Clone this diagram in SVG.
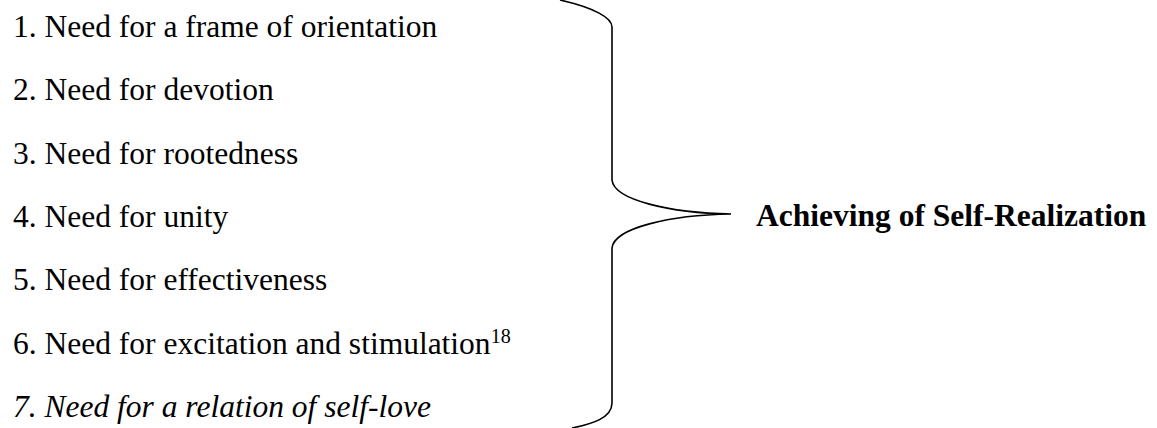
<svg xmlns="http://www.w3.org/2000/svg" width="1157" height="428" viewBox="0 0 1157 428">
<style>
  .t { font-family: "Liberation Serif", "Times New Roman", serif; font-size: 31.5px; fill: #000; }
  .i { font-style: italic; }
  .b { font-weight: bold; }
  .brace { fill: none; stroke: #000; stroke-width: 1.6; }
</style>
<rect width="1157" height="428" fill="#fff"/>
<g id="needs">
  <g id="n1"><text class="t" x="13" y="37">1. Need for a frame of orientation</text></g>
  <g id="n2"><text class="t" x="13" y="100.3">2. Need for devotion</text></g>
  <g id="n3"><text class="t" x="13" y="163.6">3. Need for rootedness</text></g>
  <g id="n4"><text class="t" x="13" y="227">4. Need for unity</text></g>
  <g id="n5"><text class="t" x="13" y="290.2">5. Need for effectiveness</text></g>
  <g id="n6"><text class="t" x="13" y="353.5">6. Need for excitation and stimulation<tspan font-size="20" dy="-11">18</tspan></text></g>
  <g id="n7"><text class="t i" x="13" y="416.8">7. Need for a relation of self-love</text></g>
</g>
<g id="connectors">
  <path class="brace" d="M560,0 C595,8 612,18 612,27 L612,180 C614,200 670,213 731,214 C670,215 614,228 612,248 L612,403 C612,418 592,424 572,428"/>
</g>
<g id="result">
  <text class="t b" x="756" y="226">Achieving of Self-Realization</text>
</g>
</svg>
